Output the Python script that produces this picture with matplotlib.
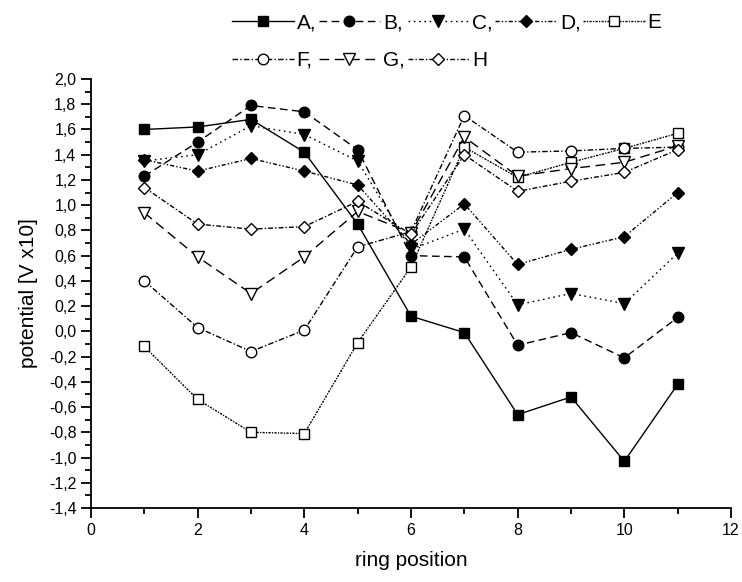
import matplotlib
matplotlib.use("Agg")
import matplotlib.pyplot as plt
from matplotlib.ticker import MultipleLocator, FuncFormatter

plt.rcParams['font.family'] = ['Liberation Sans', 'DejaVu Sans']
plt.rcParams['lines.scale_dashes'] = False

# ring positions and measured potentials for each series
ring = [1, 2, 3, 4, 5, 6, 7, 8, 9, 10, 11]
A = [1.60, 1.62, 1.68, 1.42, 0.85, 0.12, -0.01, -0.66, -0.52, -1.03, -0.42]
B = [1.23, 1.50, 1.79, 1.74, 1.44, 0.60, 0.59, -0.11, -0.01, -0.21, 0.11]
C = [1.35, 1.40, 1.63, 1.56, 1.35, 0.65, 0.81, 0.21, 0.30, 0.22, 0.62]
D = [1.36, 1.27, 1.37, 1.27, 1.16, 0.69, 1.01, 0.53, 0.65, 0.75, 1.10]
E = [-0.12, -0.54, -0.80, -0.81, -0.09, 0.51, 1.46, 1.22, 1.34, 1.45, 1.57]
F = [0.40, 0.03, -0.16, 0.01, 0.67, 0.79, 1.71, 1.42, 1.43, 1.45, 1.46]
G = [0.94, 0.59, 0.30, 0.59, 0.95, 0.78, 1.54, 1.23, 1.29, 1.34, 1.47]
H = [1.14, 0.85, 0.81, 0.83, 1.03, 0.77, 1.40, 1.11, 1.19, 1.26, 1.44]

series_names = ["A", "B", "C", "D", "E", "F", "G", "H"]
legend_labels = ["A,", "B,", "C,", "D,", "E", "F,", "G,", "H"]

x_ticks = [0, 2, 4, 6, 8, 10, 12]

fig = plt.figure(figsize=(7.42, 5.82), dpi=100)
ax = fig.add_axes([91 / 742, 1 - 508 / 582, 640 / 742, 429 / 582])

styles = {
    "A": dict(marker='s', ms=7.2, mfc='black', ls='-'),
    "B": dict(marker='o', ms=7.6, mfc='black', ls=(0, (5.5, 3.2))),
    "C": dict(marker='v', ms=8.6, mfc='black', ls=(0, (1.2, 2.6))),
    "D": dict(marker='D', ms=6.5, mfc='black', ls=(0, (3, 1.5, 1, 1.5, 1, 1.5))),
    "E": dict(marker='s', ms=7.2, mfc='white', ls=(0, (1.6, 0.9, 0.9, 0.9))),
    "F": dict(marker='o', ms=7.6, mfc='white', ls=(0, (4, 1.6, 1, 1.6))),
    "G": dict(marker='v', ms=8.6, mfc='white', ls=(0, (7, 4))),
    "H": dict(marker='D', ms=6.5, mfc='white', ls=(0, (3.5, 1.5, 1, 1.5))),
}
data = dict(A=A, B=B, C=C, D=D, E=E, F=F, G=G, H=H)

handles = {}
for name, lab in zip(series_names, legend_labels):
    st = styles[name]
    (h,) = ax.plot(ring, data[name], color='black', lw=1.0,
                   linestyle=st['ls'], marker=st['marker'], markersize=st['ms'],
                   markerfacecolor=st['mfc'], markeredgecolor='black',
                   markeredgewidth=1.0, label=lab)
    handles[name] = h

ax.set_xlim(0, 12)
ax.set_ylim(-1.4, 2.0)
ax.set_xticks(x_ticks)
ax.xaxis.set_minor_locator(MultipleLocator(1))
ax.yaxis.set_major_locator(MultipleLocator(0.2))
ax.yaxis.set_minor_locator(MultipleLocator(0.1))
ax.yaxis.set_major_formatter(FuncFormatter(lambda v, p: f"{v:.1f}".replace('.', ',').replace('-0,0', '0,0')))
ax.xaxis.set_major_formatter(FuncFormatter(lambda v, p: f"{int(round(v))}"))

for s in ('top', 'right'):
    ax.spines[s].set_visible(False)
for s in ('left', 'bottom'):
    ax.spines[s].set_linewidth(1.3)

ax.tick_params(which='major', direction='out', length=7.5, width=1.3, labelsize=11.5, pad=3)
ax.tick_params(which='minor', direction='out', length=4, width=1.3)

ax.set_xlabel("ring position", fontsize=15, labelpad=10)
ax.set_ylabel("potential [V x10]", fontsize=15, labelpad=8)

# legend in two rows: columns fill top-to-bottom
order = ["A", "F", "B", "G", "C", "H", "D", "E"]
fig.legend([handles[n] for n in order],
           [legend_labels[series_names.index(n)] for n in order],
           ncol=5, loc='upper left', bbox_to_anchor=(228 / 742, 1 - 9 / 582),
           frameon=False, fontsize=15, handlelength=2.95, handletextpad=0.15,
           columnspacing=0.12, labelspacing=0.9, borderpad=0.2, numpoints=1,
           borderaxespad=0.0)

fig.savefig("out.png", dpi=100)
